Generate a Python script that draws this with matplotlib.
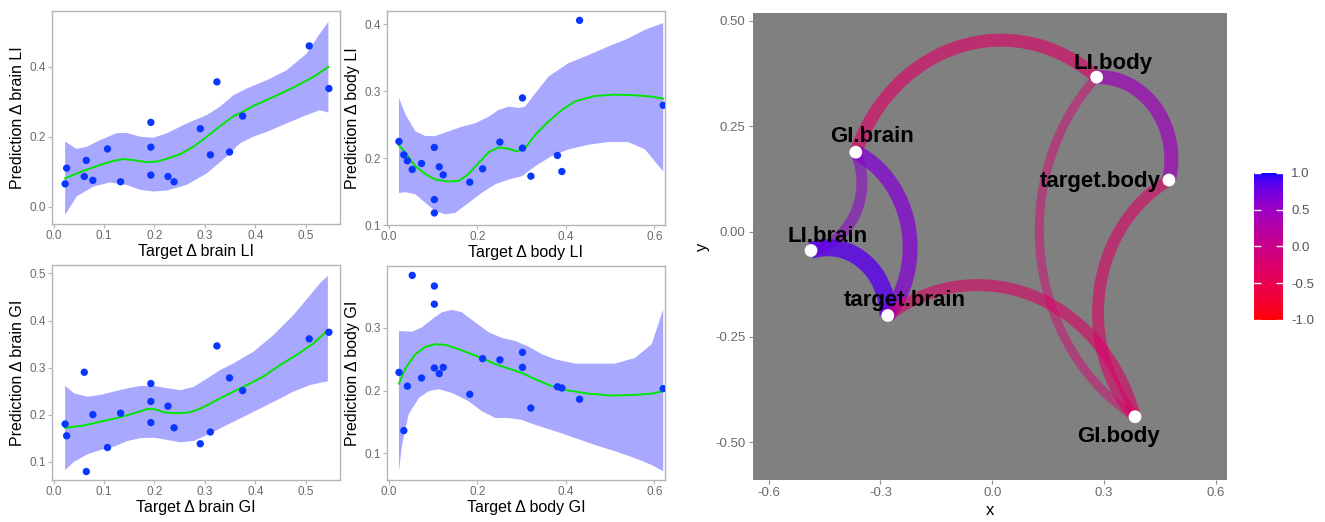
import numpy as np
import matplotlib
matplotlib.use('Agg')
import matplotlib.pyplot as plt
from matplotlib.colors import ListedColormap, Normalize
from matplotlib.cm import ScalarMappable

plt.rcParams['font.family'] = ['Liberation Sans', 'DejaVu Sans']

# ---------------- scatter data ----------------
brain_x = [0.023, 0.026, 0.061, 0.065, 0.078, 0.107, 0.133, 0.193, 0.193, 0.193,
           0.227, 0.239, 0.291, 0.311, 0.324, 0.349, 0.375, 0.507, 0.546]
brain_li_pred = [0.065, 0.110, 0.086, 0.132, 0.075, 0.165, 0.071, 0.241, 0.170, 0.090,
                 0.086, 0.071, 0.223, 0.148, 0.357, 0.156, 0.259, 0.460, 0.338]
brain_gi_pred = [0.180, 0.155, 0.290, 0.079, 0.200, 0.130, 0.203, 0.266, 0.228, 0.183,
                 0.218, 0.172, 0.138, 0.163, 0.346, 0.278, 0.251, 0.361, 0.375]

body_x = [0.023, 0.034, 0.042, 0.053, 0.074, 0.103, 0.103, 0.103, 0.114, 0.123,
          0.183, 0.212, 0.251, 0.302, 0.302, 0.321, 0.381, 0.391, 0.431, 0.620]
body_li_pred = [0.225, 0.205, 0.196, 0.183, 0.192, 0.216, 0.138, 0.118, 0.187, 0.175,
                0.164, 0.184, 0.224, 0.290, 0.215, 0.173, 0.204, 0.180, 0.406, 0.279]
body_gi_pred = [0.229, 0.136, 0.207, 0.384, 0.220, 0.367, 0.338, 0.236, 0.227, 0.237,
                0.194, 0.251, 0.249, 0.261, 0.237, 0.172, 0.206, 0.204, 0.186, 0.203]

# smoother (loess fit and 95% band)
bli_fit_x = [0.023, 0.059, 0.092, 0.119, 0.139, 0.159, 0.185, 0.205, 0.225, 0.251, 0.277,
             0.304, 0.33, 0.357, 0.375, 0.396, 0.436, 0.476, 0.515, 0.545]
bli_fit_y = [0.081, 0.102, 0.119, 0.131, 0.136, 0.133, 0.127, 0.129, 0.137, 0.150, 0.171,
             0.200, 0.230, 0.259, 0.271, 0.288, 0.314, 0.341, 0.371, 0.400]
bli_hi_x = [0.023, 0.046, 0.066, 0.092, 0.125, 0.145, 0.172, 0.198, 0.225, 0.264, 0.304,
            0.33, 0.357, 0.383, 0.423, 0.462, 0.502, 0.528, 0.545]
bli_hi_y = [0.186, 0.165, 0.171, 0.190, 0.210, 0.211, 0.200, 0.197, 0.210, 0.238, 0.262,
            0.286, 0.319, 0.338, 0.362, 0.390, 0.438, 0.495, 0.529]
bli_lo_x = [0.023, 0.046, 0.079, 0.112, 0.145, 0.172, 0.198, 0.225, 0.264, 0.304, 0.343,
            0.37, 0.396, 0.423, 0.462, 0.502, 0.528, 0.545]
bli_lo_y = [-0.024, 0.029, 0.057, 0.069, 0.062, 0.048, 0.043, 0.046, 0.062, 0.095, 0.143,
            0.181, 0.200, 0.214, 0.238, 0.262, 0.276, 0.269]

dli_fit_x = [0.023, 0.038, 0.06, 0.083, 0.105, 0.135, 0.158, 0.18, 0.203, 0.226, 0.248,
             0.271, 0.289, 0.308, 0.331, 0.361, 0.391, 0.421, 0.466, 0.511, 0.556, 0.594, 0.62]
dli_fit_y = [0.219, 0.208, 0.188, 0.176, 0.168, 0.165, 0.166, 0.176, 0.193, 0.209, 0.216,
             0.214, 0.210, 0.215, 0.235, 0.255, 0.272, 0.285, 0.293, 0.295, 0.294, 0.292, 0.289]
dli_hi_x = [0.023, 0.038, 0.06, 0.083, 0.105, 0.135, 0.165, 0.195, 0.226, 0.248, 0.271,
            0.293, 0.308, 0.331, 0.361, 0.406, 0.451, 0.496, 0.541, 0.579, 0.62]
dli_hi_y = [0.290, 0.265, 0.240, 0.233, 0.233, 0.240, 0.247, 0.252, 0.262, 0.272, 0.277,
            0.275, 0.277, 0.297, 0.322, 0.342, 0.354, 0.367, 0.379, 0.392, 0.402]
dli_lo_x = [0.023, 0.038, 0.06, 0.083, 0.105, 0.128, 0.15, 0.18, 0.21, 0.241, 0.271,
            0.301, 0.331, 0.368, 0.406, 0.451, 0.496, 0.541, 0.579, 0.62]
dli_lo_y = [0.148, 0.149, 0.146, 0.133, 0.121, 0.116, 0.118, 0.133, 0.148, 0.161, 0.168,
            0.173, 0.188, 0.203, 0.213, 0.220, 0.224, 0.224, 0.213, 0.180]

bgi_fit_x = [0.023, 0.055, 0.094, 0.127, 0.16, 0.186, 0.199, 0.219, 0.239, 0.265, 0.285,
             0.305, 0.331, 0.357, 0.384, 0.416, 0.449, 0.482, 0.515, 0.544]
bgi_fit_y = [0.172, 0.176, 0.185, 0.193, 0.203, 0.212, 0.212, 0.205, 0.203, 0.204, 0.210,
             0.220, 0.235, 0.249, 0.263, 0.281, 0.305, 0.327, 0.351, 0.380]
bgi_hi_x = [0.023, 0.041, 0.068, 0.094, 0.12, 0.147, 0.173, 0.199, 0.226, 0.252, 0.278,
            0.305, 0.331, 0.357, 0.397, 0.436, 0.476, 0.509, 0.528, 0.544]
bgi_hi_y = [0.261, 0.245, 0.238, 0.242, 0.249, 0.256, 0.261, 0.261, 0.256, 0.252, 0.259,
            0.277, 0.295, 0.309, 0.334, 0.369, 0.412, 0.454, 0.479, 0.495]
bgi_lo_x = [0.023, 0.041, 0.068, 0.094, 0.12, 0.147, 0.173, 0.199, 0.226, 0.252, 0.278,
            0.305, 0.331, 0.357, 0.397, 0.436, 0.476, 0.509, 0.544]
bgi_lo_y = [0.082, 0.100, 0.116, 0.125, 0.132, 0.144, 0.150, 0.151, 0.146, 0.141, 0.144,
            0.157, 0.171, 0.185, 0.206, 0.227, 0.249, 0.263, 0.271]

dgi_fit_x = [0.023, 0.038, 0.06, 0.083, 0.105, 0.128, 0.158, 0.188, 0.21, 0.241, 0.271,
             0.301, 0.331, 0.368, 0.406, 0.451, 0.504, 0.556, 0.594, 0.62]
dgi_fit_y = [0.211, 0.236, 0.258, 0.270, 0.274, 0.273, 0.266, 0.258, 0.252, 0.242, 0.235,
             0.228, 0.218, 0.207, 0.200, 0.195, 0.192, 0.193, 0.195, 0.199]
dgi_hi_x = [0.023, 0.053, 0.075, 0.098, 0.12, 0.143, 0.165, 0.195, 0.226, 0.256, 0.286,
            0.316, 0.346, 0.376, 0.421, 0.466, 0.511, 0.556, 0.594, 0.62]
dgi_hi_y = [0.295, 0.294, 0.301, 0.314, 0.325, 0.329, 0.325, 0.309, 0.293, 0.284, 0.279,
            0.270, 0.258, 0.250, 0.243, 0.243, 0.243, 0.252, 0.274, 0.330]
dgi_lo_x = [0.023, 0.03, 0.045, 0.068, 0.09, 0.113, 0.143, 0.18, 0.21, 0.241, 0.271,
            0.301, 0.331, 0.376, 0.421, 0.466, 0.511, 0.556, 0.594, 0.62]
dgi_lo_y = [0.071, 0.113, 0.162, 0.188, 0.199, 0.202, 0.196, 0.183, 0.167, 0.156, 0.156,
            0.153, 0.145, 0.135, 0.124, 0.113, 0.103, 0.092, 0.081, 0.071]

# ---------------- network data ----------------
node_names = ['LI.body', 'GI.brain', 'target.body', 'LI.brain', 'target.brain', 'GI.body']
node_x = [0.280, -0.366, 0.474, -0.486, -0.280, 0.383]
node_y = [0.366, 0.188, 0.122, -0.045, -0.199, -0.439]
edge_from = ['GI.brain', 'LI.body', 'GI.body', 'GI.body', 'GI.brain', 'GI.brain', 'LI.brain', 'target.brain']
edge_to = ['LI.body', 'target.body', 'LI.body', 'target.body', 'target.brain', 'LI.brain', 'target.brain', 'GI.body']
edge_corr = [-0.3, 0.45, -0.2, -0.3, 0.65, 0.6, 0.85, -0.3]
edge_strength = [0.72, 0.78, 0.50, 0.66, 0.83, 0.61, 0.94, 0.66]


def lab_gradient(c0, c1, n=256):
    # ggplot-style colour gradient interpolated in CIE Lab
    white = np.array([0.95047, 1.0, 1.08883])
    m = np.array([[0.4124564, 0.3575761, 0.1804375],
                  [0.2126729, 0.7151522, 0.0721750],
                  [0.0193339, 0.1191920, 0.9503041]])

    def to_lab(c):
        c = np.asarray(c, float)
        lin = np.where(c <= 0.04045, c / 12.92, ((c + 0.055) / 1.055) ** 2.4)
        xyz = m @ lin / white
        f = np.where(xyz > 0.008856, np.cbrt(xyz), 7.787 * xyz + 16 / 116)
        return np.array([116 * f[1] - 16, 500 * (f[0] - f[1]), 200 * (f[1] - f[2])])

    def to_rgb(lab):
        fy = (lab[0] + 16) / 116
        f = np.array([fy + lab[1] / 500, fy, fy - lab[2] / 200])
        xyz = np.where(f ** 3 > 0.008856, f ** 3, (f - 16 / 116) / 7.787) * white
        lin = np.linalg.solve(m, xyz)
        lin = np.clip(lin, 0, 1)
        rgb = np.where(lin <= 0.0031308, 12.92 * lin, 1.055 * lin ** (1 / 2.4) - 0.055)
        return np.clip(rgb, 0, 1)

    a, b = to_lab(c0), to_lab(c1)
    return ListedColormap([to_rgb(a + (b - a) * t) for t in np.linspace(0, 1, n)])


def scatter_panel(ax, x, y, fit_x, fit_y, hi_x, hi_y, lo_x, lo_y,
                  xlabel, ylabel, xticks, yticks, xlim, ylim):
    ax.fill(np.r_[hi_x, lo_x[::-1]], np.r_[hi_y, lo_y[::-1]],
            color='#0000ff', alpha=0.34, lw=0, zorder=1)
    ax.plot(fit_x, fit_y, color='#00e600', lw=1.4, zorder=2)
    ax.scatter(x, y, s=28, color='#0a37ff', edgecolors='none', zorder=3)
    ax.set_xlim(*xlim)
    ax.set_ylim(*ylim)
    ax.set_xticks(xticks)
    ax.set_xticklabels([f'{t:.1f}' for t in xticks])
    ax.set_yticks(yticks)
    ax.set_yticklabels([f'{t:.1f}' for t in yticks])
    for s in ax.spines.values():
        s.set_color('#b5b5b5')
        s.set_linewidth(1.0)
    ax.tick_params(length=3, width=0.8, color='#b5b5b5', labelsize=8.5,
                   labelcolor='#6a6a6a', pad=1.5)
    ax.set_xlabel(xlabel, fontsize=11.5, labelpad=1)
    ax.set_ylabel(ylabel, fontsize=11.5, labelpad=3)


fig = plt.figure(figsize=(13.25, 5.22), dpi=100)
W, H = 1325, 522


def px_axes(left, top, right, bottom):
    return fig.add_axes([left / W, 1 - bottom / H, (right - left) / W, (bottom - top) / H])


ax1 = px_axes(52, 11, 340, 224)
ax2 = px_axes(387, 11, 665, 225)
ax3 = px_axes(52, 265, 340, 480)
ax4 = px_axes(387, 266, 665, 480)

scatter_panel(ax1, brain_x, brain_li_pred, bli_fit_x, bli_fit_y, bli_hi_x, bli_hi_y,
              bli_lo_x, bli_lo_y, 'Target \u0394 brain LI', 'Prediction \u0394 brain LI',
              [0, 0.1, 0.2, 0.3, 0.4, 0.5], [0.0, 0.2, 0.4], (-0.003, 0.568), (-0.05, 0.56))
scatter_panel(ax2, body_x, body_li_pred, dli_fit_x, dli_fit_y, dli_hi_x, dli_hi_y,
              dli_lo_x, dli_lo_y, 'Target \u0394 body LI', 'Prediction \u0394 body LI',
              [0, 0.2, 0.4, 0.6], [0.1, 0.2, 0.3, 0.4], (-0.004, 0.624), (0.1, 0.42))
scatter_panel(ax3, brain_x, brain_gi_pred, bgi_fit_x, bgi_fit_y, bgi_hi_x, bgi_hi_y,
              bgi_lo_x, bgi_lo_y, 'Target \u0394 brain GI', 'Prediction \u0394 brain GI',
              [0, 0.1, 0.2, 0.3, 0.4, 0.5], [0.1, 0.2, 0.3, 0.4, 0.5], (-0.003, 0.568), (0.061, 0.518))
scatter_panel(ax4, body_x, body_gi_pred, dgi_fit_x, dgi_fit_y, dgi_hi_x, dgi_hi_y,
              dgi_lo_x, dgi_lo_y, 'Target \u0394 body GI', 'Prediction \u0394 body GI',
              [0, 0.2, 0.4, 0.6], [0.1, 0.2, 0.3], (-0.004, 0.624), (0.057, 0.399))

# ---------------- network panel ----------------
axn = px_axes(752.5, 13, 1227.5, 480)
axn.set_facecolor('#808080')
for s in axn.spines.values():
    s.set_visible(False)

cmap = lab_gradient([1, 0, 0], [0, 0, 1])
norm = Normalize(-1, 1)
pos = {n: np.array([x, y]) for n, x, y in zip(node_names, node_x, node_y)}
bulge = 0.5

for a, b, c, st in zip(edge_from, edge_to, edge_corr, edge_strength):
    p0, p1 = pos[a], pos[b]
    d = p1 - p0
    half = np.hypot(*d) / 2
    n = np.array([-d[1], d[0]]) / (2 * half)
    sag = bulge * half
    r = (half ** 2 + sag ** 2) / (2 * sag)
    ctr = (p0 + p1) / 2 - n * (r - sag)
    t0 = np.arctan2(*(p0 - ctr)[::-1])
    t1 = np.arctan2(*(p1 - ctr)[::-1])
    while t1 > t0:
        t1 -= 2 * np.pi
    tt = np.linspace(t0, t1, 100)
    axn.plot(ctr[0] + r * np.cos(tt), ctr[1] + r * np.sin(tt), color=cmap(norm(c)),
             lw=13 * st, alpha=0.1 + 0.75 * st, solid_capstyle='butt', zorder=2)

axn.scatter(node_x, node_y, s=85, color='white', edgecolors='none', zorder=4)

label_offsets = {'LI.body': (12, 10, 'center'), 'GI.brain': (12, 11, 'center'),
                 'target.body': (-6, -1, 'right'), 'LI.brain': (12, 10, 'center'),
                 'target.brain': (12, 11, 'center'), 'GI.body': (-12, -14, 'center')}
for name, x, y in zip(node_names, node_x, node_y):
    dx, dy, ha = label_offsets[name]
    axn.annotate(name, (x, y), xytext=(dx, dy), textcoords='offset points',
                 ha=ha, va='center', fontsize=16, fontweight='bold', color='black', zorder=5)

axn.set_xlim(-0.643, 0.631)
axn.set_ylim(-0.589, 0.518)
xt = [-0.6, -0.3, 0.0, 0.3, 0.6]
yt = [-0.5, -0.25, 0.0, 0.25, 0.5]
axn.set_xticks(xt)
axn.set_xticklabels([f'{v:.1f}' for v in xt])
axn.set_yticks(yt)
axn.set_yticklabels([f'{v:.2f}' for v in yt])
axn.tick_params(length=3, width=0.8, color='#8a8a8a', labelsize=9.5,
                labelcolor='#6a6a6a', pad=2)
axn.set_xlabel('x', fontsize=12, labelpad=3)
axn.set_ylabel('y', fontsize=12, labelpad=4)

# colour bar
cax = px_axes(1254, 173, 1283, 320)
cb = fig.colorbar(ScalarMappable(norm=norm, cmap=cmap), cax=cax, ticks=[-1, -0.5, 0, 0.5, 1])
cb.outline.set_visible(False)
cax.set_yticklabels(['-1.0', '-0.5', '0.0', '0.5', '1.0'])
cax.tick_params(direction='in', length=5, width=1, color='white', left=True, right=True,
                labelleft=False, labelright=True, labelsize=9.5, labelcolor='#555555', pad=6)

fig.savefig('out.png', dpi=100)
